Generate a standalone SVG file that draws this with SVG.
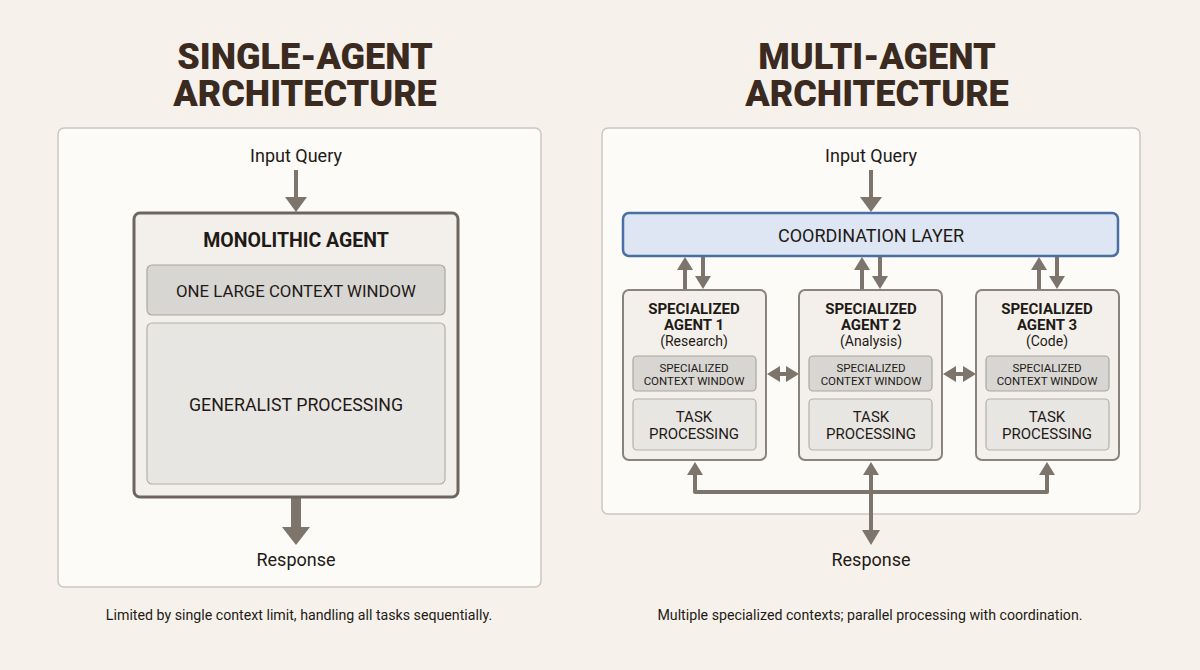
<svg xmlns="http://www.w3.org/2000/svg" width="1200" height="670" viewBox="0 0 1200 670">
<defs>
<style>
.bg{fill:#f6f2eb}
.panel{fill:#fcfbf8;stroke:#cbc6bf;stroke-width:1.5}
.title{font-family:Roboto,"Liberation Sans",sans-serif;font-weight:900;font-size:36px;fill:#3b2a1f;text-anchor:middle}
.lbl{font-family:Roboto,"Liberation Sans",sans-serif;font-size:18px;fill:#1f1a16;text-anchor:middle}
.cap{font-family:Roboto,"Liberation Sans",sans-serif;font-size:14.2px;fill:#1f1a16;text-anchor:middle}
.bold{font-weight:700}
.agent{fill:#f3f0eb;stroke:#8a837b;stroke-width:2}
.mono{fill:#f3f0eb;stroke:#6e665e;stroke-width:3}
.ctx{fill:#d8d6d2;stroke:#aaa6a0;stroke-width:1.2}
.proc{fill:#e8e6e2;stroke:#b3afa9;stroke-width:1.2}
.coord{fill:#dde6f2;stroke:#4a6fa5;stroke-width:2.5}
.line{stroke:#7d746c;stroke-width:4;fill:none}
.head{fill:#7d746c}
</style>
</defs>
<rect class="bg" x="0" y="0" width="1200" height="670"/>

<text class="title" x="305" y="69"><tspan x="305" y="69">SINGLE-AGENT</tspan><tspan x="305" y="106">ARCHITECTURE</tspan></text>
<text class="title" x="877" y="69"><tspan x="877" y="69">MULTI-AGENT</tspan><tspan x="877" y="106">ARCHITECTURE</tspan></text>

<rect class="panel" x="58" y="128" width="483" height="459" rx="6"/>
<rect class="panel" x="602" y="128" width="538" height="386" rx="6"/>

<text class="lbl" x="296" y="162">Input Query</text>
<text class="lbl" x="296" y="566">Response</text>
<text class="cap" x="299" y="620">Limited by single context limit, handling all tasks sequentially.</text>

<text class="lbl" x="871" y="162">Input Query</text>
<text class="lbl" x="871" y="566">Response</text>
<text class="cap" x="870" y="620">Multiple specialized contexts; parallel processing with coordination.</text>

<g id="connectors">
<line class="line" x1="296" y1="170" x2="296" y2="200"/>
<polygon class="head" points="285,197 307,197 296,212"/>
<rect class="head" x="291" y="497" width="10" height="32"/>
<polygon class="head" points="282,527 310,527 296,545"/>

<line class="line" x1="871" y1="170" x2="871" y2="200"/>
<polygon class="head" points="860,197 882,197 871,212"/>

<line class="line" x1="685" y1="290" x2="685" y2="268"/>
<polygon class="head" points="677,270 693,270 685,257"/>
<line class="line" x1="703" y1="257" x2="703" y2="278"/>
<polygon class="head" points="695,276 711,276 703,289"/>
<line class="line" x1="862" y1="290" x2="862" y2="268"/>
<polygon class="head" points="854,270 870,270 862,257"/>
<line class="line" x1="880" y1="257" x2="880" y2="278"/>
<polygon class="head" points="872,276 888,276 880,289"/>
<line class="line" x1="1039" y1="290" x2="1039" y2="268"/>
<polygon class="head" points="1031,270 1047,270 1039,257"/>
<line class="line" x1="1057" y1="257" x2="1057" y2="278"/>
<polygon class="head" points="1049,276 1065,276 1057,289"/>

<line class="line" x1="778" y1="374" x2="788" y2="374"/>
<polygon class="head" points="767,374 780,366 780,382"/>
<polygon class="head" points="799,374 786,366 786,382"/>
<line class="line" x1="954" y1="374" x2="965" y2="374"/>
<polygon class="head" points="943,374 956,366 956,382"/>
<polygon class="head" points="976,374 963,366 963,382"/>

<path class="line" d="M695,472 V492 H1047 V472" stroke-linejoin="round"/>
<polygon class="head" points="687,475 703,475 695,462"/>
<polygon class="head" points="1039,475 1055,475 1047,462"/>
<line class="line" x1="871" y1="472" x2="871" y2="532"/>
<polygon class="head" points="863,475 879,475 871,462"/>
<polygon class="head" points="862,530 880,530 871,545"/>
</g>

<g id="monolithic-agent">
<rect class="mono" x="134" y="213" width="324" height="284" rx="6"/>
<text class="lbl bold" x="296" y="247" style="font-size:19.5px">MONOLITHIC AGENT</text>
<rect class="ctx" x="147" y="265" width="298" height="50" rx="5"/>
<text class="lbl" x="296" y="297" style="font-size:16.8px">ONE LARGE CONTEXT WINDOW</text>
<rect class="proc" x="147" y="323" width="298" height="161" rx="5"/>
<text class="lbl" x="296" y="411" style="font-size:17.8px">GENERALIST PROCESSING</text>
</g>

<g id="coordination-layer">
<rect class="coord" x="623" y="213" width="495" height="43" rx="6"/>
<text class="lbl" x="871" y="242">COORDINATION LAYER</text>
</g>

<g id="agent-1">
<rect class="agent" x="623" y="290" width="143" height="170" rx="6"/>
<text class="lbl bold" x="694" y="314" style="font-size:15px">SPECIALIZED</text>
<text class="lbl bold" x="694" y="330" style="font-size:15px">AGENT 1</text>
<text class="lbl" x="694" y="346" style="font-size:14px">(Research)</text>
<rect class="ctx" x="633" y="356" width="123" height="35" rx="4"/>
<text class="lbl" x="694" y="372" style="font-size:11.5px">SPECIALIZED</text>
<text class="lbl" x="694" y="385" style="font-size:11.5px">CONTEXT WINDOW</text>
<rect class="proc" x="633" y="399" width="123" height="51" rx="4"/>
<text class="lbl" x="694" y="422" style="font-size:15px">TASK</text>
<text class="lbl" x="694" y="439" style="font-size:15px">PROCESSING</text>
</g>

<g id="agent-2">
<rect class="agent" x="799" y="290" width="143" height="170" rx="6"/>
<text class="lbl bold" x="871" y="314" style="font-size:15px">SPECIALIZED</text>
<text class="lbl bold" x="871" y="330" style="font-size:15px">AGENT 2</text>
<text class="lbl" x="871" y="346" style="font-size:14px">(Analysis)</text>
<rect class="ctx" x="809" y="356" width="123" height="35" rx="4"/>
<text class="lbl" x="871" y="372" style="font-size:11.5px">SPECIALIZED</text>
<text class="lbl" x="871" y="385" style="font-size:11.5px">CONTEXT WINDOW</text>
<rect class="proc" x="809" y="399" width="123" height="51" rx="4"/>
<text class="lbl" x="871" y="422" style="font-size:15px">TASK</text>
<text class="lbl" x="871" y="439" style="font-size:15px">PROCESSING</text>
</g>

<g id="agent-3">
<rect class="agent" x="976" y="290" width="143" height="170" rx="6"/>
<text class="lbl bold" x="1047" y="314" style="font-size:15px">SPECIALIZED</text>
<text class="lbl bold" x="1047" y="330" style="font-size:15px">AGENT 3</text>
<text class="lbl" x="1047" y="346" style="font-size:14px">(Code)</text>
<rect class="ctx" x="986" y="356" width="123" height="35" rx="4"/>
<text class="lbl" x="1047" y="372" style="font-size:11.5px">SPECIALIZED</text>
<text class="lbl" x="1047" y="385" style="font-size:11.5px">CONTEXT WINDOW</text>
<rect class="proc" x="986" y="399" width="123" height="51" rx="4"/>
<text class="lbl" x="1047" y="422" style="font-size:15px">TASK</text>
<text class="lbl" x="1047" y="439" style="font-size:15px">PROCESSING</text>
</g>
</svg>
